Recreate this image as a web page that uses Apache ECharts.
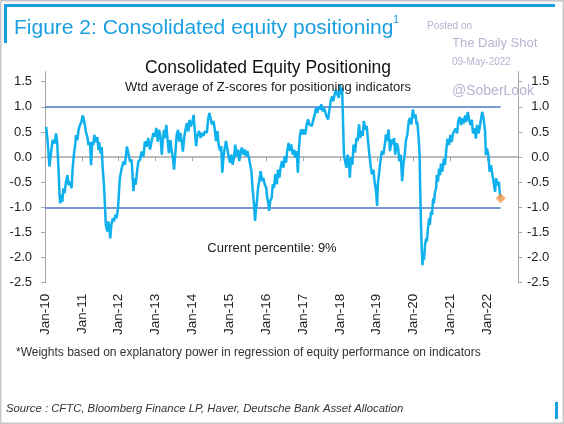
<!DOCTYPE html>
<html><head><meta charset="utf-8">
<script src="https://cdn.jsdelivr.net/npm/echarts@6/dist/echarts.min.js"></script>
<style>html,body{margin:0;padding:0;background:#fff}#c{width:564px;height:424px}</style>
</head><body><div id="c"></div>
<script>
// decimal-year positions of readings
const dates = [
2010.03,2010.06,2010.10,2010.12,2010.16,2010.21,2010.26,2010.30,2010.33,2010.37,2010.39,2010.41,2010.44,2010.47,2010.50,2010.53,2010.57,2010.61,2010.64,2010.68,2010.72,2010.75,2010.79,2010.82,2010.84,2010.88,2010.91,2010.95,2010.99,
2011.02,2011.05,2011.08,2011.11,2011.15,2011.18,2011.22,2011.25,2011.28,2011.31,2011.34,2011.38,2011.42,2011.45,2011.47,2011.51,2011.54,2011.56,2011.60,2011.63,2011.65,2011.69,2011.72,2011.75,2011.77,2011.80,2011.84,2011.87,2011.91,2011.94,2011.98,
2012.03,2012.08,2012.13,2012.17,2012.22,2012.26,2012.31,2012.35,2012.40,2012.42,2012.46,2012.50,2012.53,2012.58,2012.62,2012.67,2012.71,2012.76,2012.80,2012.85,2012.89,2012.94,2012.98,
2013.02,2013.06,2013.09,2013.13,2013.17,2013.19,2013.23,2013.26,2013.29,2013.33,2013.36,2013.40,2013.44,2013.47,2013.50,2013.54,2013.57,2013.61,2013.64,2013.67,2013.71,2013.74,2013.78,2013.82,2013.85,2013.89,2013.92,2013.96,
2014.00,2014.03,2014.07,2014.10,2014.13,2014.18,2014.22,2014.26,2014.30,2014.34,2014.39,2014.43,2014.46,2014.49,2014.53,2014.57,2014.60,2014.64,2014.68,2014.71,2014.75,2014.78,2014.81,2014.84,2014.87,2014.91,2014.95,2014.98,
2015.02,2015.06,2015.09,2015.13,2015.16,2015.20,2015.24,2015.27,2015.31,2015.34,2015.38,2015.42,2015.45,2015.49,2015.53,2015.56,2015.60,2015.63,2015.67,2015.70,2015.72,2015.75,2015.78,2015.81,2015.85,2015.89,2015.92,2015.96,
2016.00,2016.03,2016.07,2016.08,2016.11,2016.15,2016.18,2016.21,2016.25,2016.29,2016.32,2016.36,2016.39,2016.43,2016.47,2016.50,2016.54,2016.57,2016.61,2016.65,2016.68,2016.72,2016.76,2016.79,2016.83,2016.86,2016.89,2016.92,2016.95,2016.99,
2017.03,2017.06,2017.10,2017.14,2017.17,2017.21,2017.24,2017.28,2017.32,2017.35,2017.39,2017.42,2017.46,2017.50,2017.53,2017.57,2017.61,2017.64,2017.68,2017.71,2017.75,2017.79,2017.82,2017.86,2017.89,2017.93,2017.97,
2018.00,2018.03,2018.06,2018.08,2018.11,2018.14,2018.18,2018.21,2018.25,2018.27,2018.30,2018.34,2018.37,2018.41,2018.45,2018.48,2018.52,2018.55,2018.58,2018.62,2018.65,2018.69,2018.73,2018.76,2018.80,2018.84,2018.87,2018.91,2018.94,2018.98,
2019.01,2019.03,2019.07,2019.11,2019.14,2019.18,2019.22,2019.25,2019.29,2019.32,2019.36,2019.40,2019.43,2019.47,2019.50,2019.54,2019.58,2019.61,2019.65,2019.69,2019.72,2019.76,2019.79,2019.83,2019.87,2019.90,2019.94,2019.98,
2020.01,2020.05,2020.08,2020.10,2020.13,2020.16,2020.18,2020.20,2020.22,2020.24,2020.26,2020.28,2020.31,2020.34,2020.36,2020.39,2020.42,2020.44,2020.47,2020.50,2020.53,2020.55,2020.58,2020.61,2020.63,2020.66,2020.69,2020.72,2020.74,2020.78,2020.82,2020.85,2020.89,2020.92,2020.96,
2021.00,2021.03,2021.07,2021.10,2021.14,2021.18,2021.21,2021.25,2021.29,2021.32,2021.36,2021.40,2021.43,2021.47,2021.50,2021.54,2021.58,2021.61,2021.65,2021.69,2021.72,2021.76,2021.79,2021.83,2021.86,2021.90,2021.94,2021.96,2021.99,
2022.03,2022.06,2022.10,2022.14,2022.17,2022.21,2022.24,2022.27,2022.31,2022.34,2022.36
];
// weighted average of Z-scores
const values = [
0.60,0.40,0.04,-0.19,0.07,0.34,0.27,0.47,0.30,-0.29,-0.69,-0.92,-0.75,-0.89,-0.62,-0.72,-0.49,-0.36,-0.56,-0.49,-0.62,-0.23,0.10,0.24,0.44,0.34,0.54,0.64,0.70,
0.83,0.77,0.64,0.50,0.40,0.24,0.30,-0.16,0.30,0.24,0.44,0.30,0.40,0.14,0.30,0.07,0.20,-0.16,-0.56,-1.02,-1.35,-1.48,-1.28,-1.42,-1.62,-1.35,-1.22,-1.28,-1.15,-1.22,-1.02,
-0.42,-0.22,-0.09,-0.15,0.21,0.08,-0.09,-0.05,-0.68,-0.42,-0.55,-0.28,-0.09,-0.05,0.11,0.01,0.31,0.21,0.38,0.15,0.31,0.48,0.41,
0.58,0.31,0.54,0.44,0.05,0.28,0.54,0.38,0.64,0.31,0.08,0.34,0.11,-0.02,-0.25,0.11,0.44,0.54,0.31,0.48,0.31,0.11,0.41,0.58,0.68,0.51,0.74,0.61,
0.71,0.84,0.48,0.22,0.42,0.52,0.38,0.48,0.42,0.52,0.48,0.78,0.88,0.78,0.65,0.72,0.58,0.32,0.52,0.25,0.12,0.22,-0.31,-0.01,0.15,0.32,0.15,0.02,
-0.11,0.05,-0.15,-0.01,0.25,0.02,0.15,-0.08,0.09,0.19,0.05,0.15,0.02,0.12,-0.01,0.02,-0.28,-0.61,-0.94,-1.27,-1.07,-0.87,-0.61,-0.48,-0.28,-0.48,-0.41,-0.54,
-0.61,-0.81,-0.97,-1.07,-0.87,-0.81,-0.54,-0.61,-0.34,-0.54,-0.25,-0.41,-0.21,-0.08,-0.21,0.02,-0.11,0.12,0.28,0.12,0.25,0.05,0.15,-0.01,0.12,-0.31,0.19,0.45,0.55,0.45,
0.55,0.45,0.65,0.75,0.65,0.68,0.62,0.75,0.85,0.98,0.88,1.01,0.95,1.05,0.91,0.98,0.88,0.81,0.75,0.91,1.11,1.21,1.11,1.25,1.34,1.25,1.18,
1.44,1.25,1.38,0.85,0.05,-0.08,-0.21,0.05,-0.15,-0.41,-0.01,-0.15,0.25,0.09,0.38,0.32,0.65,0.38,0.52,0.42,0.72,0.55,0.62,0.35,0.05,-0.21,-0.34,-0.25,-0.48,-0.68,
-0.97,-0.54,-0.28,-0.01,0.12,0.05,0.25,0.45,0.32,0.55,0.12,0.35,0.25,0.38,0.05,0.28,0.19,-0.08,0.05,-0.48,-0.15,0.05,0.32,0.45,0.72,0.78,0.65,0.95,
0.78,0.85,0.65,0.70,0.44,0.10,-0.69,-1.35,-1.81,-2.15,-1.95,-2.05,-1.75,-1.62,-1.68,-1.42,-1.22,-1.35,-1.09,-1.15,-0.82,-0.92,-0.69,-0.62,-0.36,-0.49,-0.23,-0.36,-0.13,-0.29,-0.03,-0.16,0.17,0.37,0.24,
0.44,0.30,0.47,0.44,0.57,0.47,0.70,0.80,0.64,0.77,0.67,0.83,0.70,0.90,0.77,0.64,0.74,0.47,0.57,0.37,0.64,0.47,0.57,0.77,0.90,0.77,0.50,0.04,0.17,
0.04,-0.29,-0.16,-0.36,-0.49,-0.69,-0.42,-0.56,-0.49,-0.72,-0.82
];
const yTicks = [-2.5,-2.0,-1.5,-1.0,-0.5,0.0,0.5,1.0,1.5];
const xTickYears = [2010,2011,2012,2013,2014,2015,2016,2017,2018,2019,2020,2021,2022];
const bandLevels = [1,-1];
const currentPercentile = '9%';

const X_MIN = 2010, X_MAX = 2022.84, Y_MIN = -2.5, Y_MAX = 1.7;
const FONT = '"Liberation Sans", Arial, sans-serif';
const lineData = dates.map((d,i)=>[d, values[i]]);
const last = lineData[lineData.length-1];

const chart = echarts.init(document.getElementById('c'), null, {renderer:'canvas'});
const yAxisCommon = {
  type:'value', min:Y_MIN, max:Y_MAX,
  axisLine:{show:true, lineStyle:{color:'#a6a6a6', width:1}},
  axisTick:{show:true, length:4, customValues:yTicks, lineStyle:{color:'#a6a6a6'}},
  splitLine:{show:false},
  axisLabel:{customValues:yTicks, formatter:v=>v.toFixed(1), color:'#222', fontSize:13, fontFamily:FONT}
};
chart.setOption({
  animation:false,
  grid:{left:45, right:45.7, top:71.7, bottom:141.3, containLabel:false},
  xAxis:[
    {type:'value', min:X_MIN, max:X_MAX, position:'bottom',
     axisLine:{show:true, onZero:true, lineStyle:{color:'#a6a6a6', width:1.5}},
     axisTick:{show:true, length:4, customValues:xTickYears, lineStyle:{color:'#a6a6a6'}},
     axisLabel:{show:false}, splitLine:{show:false}},
    {type:'value', min:X_MIN, max:X_MAX, position:'bottom',
     axisLine:{show:false, onZero:false}, axisTick:{show:false}, splitLine:{show:false},
     axisLabel:{customValues:xTickYears, rotate:90, margin:11, color:'#222', fontSize:13.5, fontFamily:FONT,
       formatter:v=>'Jan-' + String(Math.round(v)%100).padStart(2,'0')}}
  ],
  yAxis:[
    Object.assign({}, yAxisCommon, {position:'left', axisLabel:Object.assign({}, yAxisCommon.axisLabel, {margin:13})}),
    Object.assign({}, yAxisCommon, {position:'right', axisLabel:Object.assign({}, yAxisCommon.axisLabel, {margin:31, align:'right'})})
  ],
  series:[
    {type:'line', data:lineData, xAxisIndex:0, yAxisIndex:0, showSymbol:false, symbol:'none',
     lineStyle:{color:'#0fb0ee', width:2.5}, z:5,
     markLine:{silent:true, symbol:'none', label:{show:false},
       lineStyle:{color:'#4a78c8', width:1.5, type:'solid'},
       data: bandLevels.map(l=>[{coord:[X_MIN,l]},{coord:[last[0],l]}])}},
    {type:'scatter', data:[last], xAxisIndex:0, yAxisIndex:0, symbol:'diamond', symbolSize:10,
     itemStyle:{color:'#f7964a'}, z:6}
  ],
  graphic:[
    {type:'rect', shape:{x:0.5,y:0.5,width:563,height:423}, style:{fill:'none', stroke:'#c8c8c8', lineWidth:2}, silent:true},
    {type:'rect', shape:{x:4,y:4,width:551,height:3}, style:{fill:'#1a9fe0'}},
    {type:'rect', shape:{x:4,y:4,width:3,height:39}, style:{fill:'#1a9fe0'}},
    {type:'rect', shape:{x:555,y:402,width:3,height:17}, style:{fill:'#1a9fe0'}},
    {type:'text', x:14, y:28, style:{text:'Figure 2: Consolidated equity positioning', fill:'#1a9fe0', font:'21px '+FONT, textVerticalAlign:'middle'}},
    {type:'text', x:393, y:20, style:{text:'1', fill:'#1a9fe0', font:'11px '+FONT, textVerticalAlign:'middle'}},
    {type:'text', x:427, y:26, style:{text:'Posted on', fill:'#b4b4d4', font:'10px '+FONT, textVerticalAlign:'middle'}},
    {type:'text', x:452, y:43, style:{text:'The Daily Shot', fill:'#b4b4d4', font:'13px '+FONT, textVerticalAlign:'middle'}},
    {type:'text', x:452, y:62, style:{text:'09-May-2022', fill:'#b4b4d4', font:'10px '+FONT, textVerticalAlign:'middle'}},
    {type:'text', x:452, y:91, style:{text:'@SoberLook', fill:'#b4b4d4', font:'14px '+FONT, textVerticalAlign:'middle'}},
    {type:'text', x:268, y:68, style:{text:'Consolidated Equity Positioning', fill:'#111', font:'17.5px '+FONT, textAlign:'center', textVerticalAlign:'middle'}},
    {type:'text', x:268, y:87, style:{text:'Wtd average of Z-scores for positioning indicators', fill:'#222', font:'13px '+FONT, textAlign:'center', textVerticalAlign:'middle'}, z:10},
    {type:'text', x:272, y:248, style:{text:'Current percentile: ' + currentPercentile, fill:'#222', font:'13px '+FONT, textAlign:'center', textVerticalAlign:'middle'}},
    {type:'text', x:16, y:353, style:{text:'*Weights based on explanatory power in regression of equity performance on indicators', fill:'#333', font:'12px '+FONT, textVerticalAlign:'middle'}},
    {type:'text', x:6, y:409, style:{text:'Source : CFTC, Bloomberg Finance LP, Haver, Deutsche Bank Asset Allocation', fill:'#333', font:'italic 11.3px '+FONT, textVerticalAlign:'middle'}}
  ]
});
</script></body></html>
